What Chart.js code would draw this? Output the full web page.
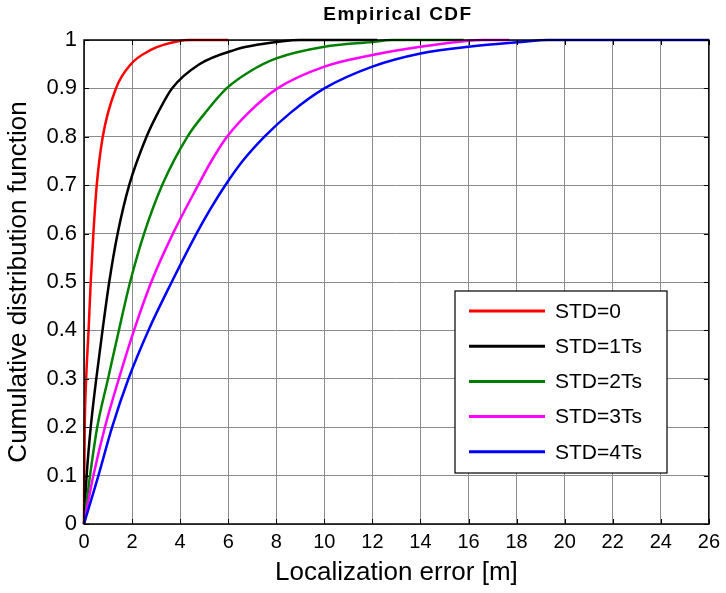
<!DOCTYPE html>
<html>
<head>
<meta charset="utf-8">
<script src="https://cdn.jsdelivr.net/npm/chart.js@4"></script>
<style>
  html, body { margin: 0; padding: 0; background: #fff; }
  #wrap { width: 726px; height: 593px; position: relative; }
</style>
</head>
<body>
<div id="wrap"><canvas id="cdfChart"></canvas></div>
<script>
// empirical CDF curves: error [m] and CDF value pairs
// (the last pair of each curve is the end of its flat tail at 1)
const std0Err = [0, 0.005, 0.01, 0.03, 0.09, 0.19, 0.28, 0.39, 0.53, 0.78, 1.33, 1.95, 2.8, 3.3, 4.4, 6.0];
const std0Cdf = [0, 0.05, 0.1, 0.2, 0.3, 0.4, 0.5, 0.6, 0.7, 0.8, 0.9, 0.95, 0.98, 0.99, 1, 1];

const std1Err = [0, 0.05, 0.11, 0.28, 0.51, 0.77, 1.05, 1.4, 1.88, 2.6, 3.08, 3.66, 4.8, 6.3, 7.2, 9.0, 12.2];
const std1Cdf = [0, 0.05, 0.1, 0.2, 0.3, 0.4, 0.5, 0.6, 0.7, 0.8, 0.85, 0.9, 0.95, 0.98, 0.99, 1, 1];

const std2Err = [0, 0.12, 0.25, 0.55, 1.0, 1.45, 1.92, 2.5, 3.25, 4.3, 5.05, 5.93, 6.9, 8.0, 10.0, 12.0, 12.8, 15.8];
const std2Cdf = [0, 0.05, 0.1, 0.2, 0.3, 0.4, 0.5, 0.6, 0.7, 0.8, 0.85, 0.9, 0.935, 0.962, 0.986, 0.996, 1, 1];

const std3Err = [0, 0.19, 0.39, 0.87, 1.45, 2.08, 2.8, 3.7, 4.75, 5.3, 5.95, 6.85, 8.05, 10.0, 12.0, 14.0, 16.0, 16.6, 17.7];
const std3Cdf = [0, 0.05, 0.1, 0.2, 0.3, 0.4, 0.5, 0.6, 0.7, 0.75, 0.8, 0.85, 0.9, 0.945, 0.969, 0.986, 0.9986, 1, 1];

const std4Err = [0, 0.3, 0.6, 1.17, 1.85, 2.68, 3.65, 4.68, 5.25, 5.88, 6.6, 7.5, 8.6, 10.0, 12.0, 14.0, 16.0, 18.2, 19.3, 26.0];
const std4Cdf = [0, 0.05, 0.1, 0.2, 0.3, 0.4, 0.5, 0.6, 0.65, 0.7, 0.75, 0.8, 0.85, 0.9, 0.945, 0.972, 0.986, 0.996, 1, 1];

const seriesLabels = ["STD=0", "STD=1Ts", "STD=2Ts", "STD=3Ts", "STD=4Ts"];
const seriesColors = ["#FF0000", "#000000", "#008000", "#FF00FF", "#0000FF"];
const seriesErr = [std0Err, std1Err, std2Err, std3Err, std4Err];
const seriesCdf = [std0Cdf, std1Cdf, std2Cdf, std3Cdf, std4Cdf];

const FONT = "'Liberation Sans', Arial, sans-serif";

const datasets = seriesLabels.map((label, i) => ({
  label: label,
  data: seriesErr[i].map((e, k) => ({ x: e, y: seriesCdf[i][k] })),
  borderColor: seriesColors[i],
  backgroundColor: seriesColors[i],
  borderWidth: 2.5,
  pointRadius: 0,
  cubicInterpolationMode: "monotone",
  clip: 4,
  order: seriesLabels.length - i
}));

// box, inner ticks, title and legend, MATLAB style
const matlabBits = {
  id: "matlabBits",
  afterDraw(chart) {
    const ctx = chart.ctx;
    const a = chart.chartArea;
    const xs = chart.scales.x, ys = chart.scales.y;
    ctx.save();
    ctx.strokeStyle = "#000";
    ctx.lineWidth = 1;
    xs.ticks.forEach(t => {
      const px = Math.round(xs.getPixelForValue(t.value)) + 0.5;
      ctx.beginPath();
      ctx.moveTo(px, a.bottom); ctx.lineTo(px, a.bottom - 5);
      ctx.moveTo(px, a.top); ctx.lineTo(px, a.top + 5);
      ctx.stroke();
    });
    ys.ticks.forEach(t => {
      const py = Math.round(ys.getPixelForValue(t.value)) + 0.5;
      ctx.beginPath();
      ctx.moveTo(a.left, py); ctx.lineTo(a.left + 5, py);
      ctx.moveTo(a.right, py); ctx.lineTo(a.right - 5, py);
      ctx.stroke();
    });
    ctx.lineWidth = 1.5;
    ctx.strokeRect(a.left, a.top, a.right - a.left, a.bottom - a.top);

    // title
    ctx.fillStyle = "#000";
    ctx.font = "bold 19px " + FONT;
    ctx.letterSpacing = "1.5px";
    ctx.textAlign = "center";
    ctx.textBaseline = "middle";
    ctx.fillText("Empirical CDF", 398, 15);
    ctx.letterSpacing = "0px";

    // legend box inside the axes
    const bx = 455, by = 291, bw = 212, bh = 182;
    ctx.fillStyle = "#fff";
    ctx.fillRect(bx, by, bw, bh);
    ctx.lineWidth = 1.2;
    ctx.strokeStyle = "#000";
    ctx.strokeRect(bx, by, bw, bh);
    ctx.font = "21px " + FONT;
    ctx.textAlign = "left";
    chart.data.datasets.forEach((ds, i) => {
      const ry = 311 + i * 35.2;
      ctx.strokeStyle = ds.borderColor;
      ctx.lineWidth = 3;
      ctx.beginPath();
      ctx.moveTo(469, ry); ctx.lineTo(545, ry);
      ctx.stroke();
      ctx.fillStyle = "#000";
      ctx.fillText(ds.label, 555, ry + 1);
    });
    ctx.restore();
  }
};

new Chart(document.getElementById("cdfChart"), {
  type: "line",
  data: { datasets: datasets },
  options: {
    responsive: true,
    maintainAspectRatio: false,
    animation: false,
    layout: { padding: { top: 40, right: 12, left: 0, bottom: 0 } },
    plugins: { legend: { display: false }, tooltip: { enabled: false } },
    scales: {
      x: {
        type: "linear",
        min: 0, max: 26,
        ticks: { stepSize: 2, color: "#000", font: { family: FONT, size: 20 }, padding: 6, maxRotation: 0 },
        grid: { color: "#8c8c8c", lineWidth: 1, drawTicks: false },
        border: { display: false },
        title: { display: true, text: "Localization error [m]", color: "#000", font: { family: FONT, size: 26 }, padding: { top: 0, bottom: 5 } },
        afterFit(scale) { scale.height = 69; }
      },
      y: {
        type: "linear",
        min: 0, max: 1,
        ticks: {
          stepSize: 0.1, color: "#000", font: { family: FONT, size: 22 }, padding: 7,
          callback: v => String(Number(v.toFixed(1)))
        },
        grid: { color: "#8c8c8c", lineWidth: 1, drawTicks: false },
        border: { display: false },
        title: { display: true, text: "Cumulative distribution function", color: "#000", font: { family: FONT, size: 26 }, padding: { top: 3, bottom: 0 } },
        afterFit(scale) { scale.width = 84; }
      }
    }
  },
  plugins: [matlabBits]
});
</script>
</body>
</html>
